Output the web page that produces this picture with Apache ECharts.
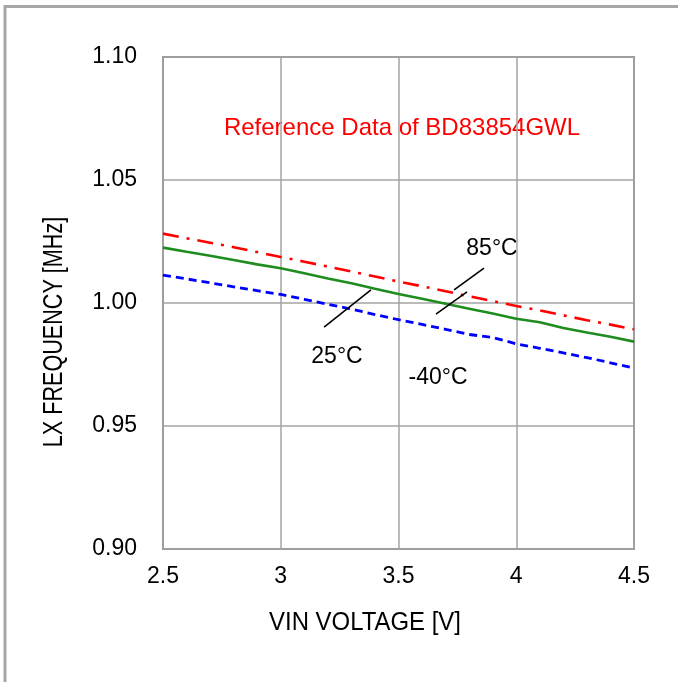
<!DOCTYPE html>
<html>
<head>
<meta charset="utf-8">
<script src="https://cdn.jsdelivr.net/npm/echarts@6/dist/echarts.min.js"></script>
<style>
html,body{margin:0;padding:0;background:#fff;}
#main{width:678px;height:682px;}
</style>
</head>
<body>
<div id="main"></div>
<script>
// VIN voltage [V]
const vin = [2.5,2.6,2.7,2.8,2.9,3.0,3.1,3.2,3.3,3.4,3.5,3.6,3.7,3.8,3.9,4.0,4.1,4.2,4.3,4.4,4.5];
// LX frequency [MHz] at 85°C
const freq85 = [1.0282,1.0263,1.0245,1.0227,1.0207,1.0187,1.0168,1.0148,1.0128,1.0108,1.0087,1.0068,1.0048,1.0027,1.0008,0.9988,0.9970,0.9950,0.9930,0.9912,0.9893];
// LX frequency [MHz] at 25°C
const freq25 = [1.0225,1.0208,1.0192,1.0175,1.0157,1.0141,1.0121,1.0100,1.0080,1.0058,1.0037,1.0017,0.9997,0.9977,0.9957,0.9936,0.9922,0.9898,0.9880,0.9863,0.9843];
// LX frequency [MHz] at -40°C
const freqM40 = [1.0113,1.0098,1.0082,1.0066,1.0050,1.0035,1.0015,0.9995,0.9975,0.9953,0.9932,0.9913,0.9893,0.9872,0.9860,0.9834,0.9816,0.9797,0.9778,0.9757,0.9735];
// axis ticks
const xTicks = [2.5,3,3.5,4,4.5];
const yTicks = [0.90,0.95,1.00,1.05,1.10];
// leader lines for temperature labels (data coordinates)
const leader25 = [[3.184,0.9902],[3.383,1.0053]];
const leader85a = [[3.863,1.0142],[3.736,1.0053]];
const leader85b = [[3.791,1.0045],[3.659,0.9955]];
// texts
const titleText = 'Reference Data of BD83854GWL';
const lbl85 = '85°C', lbl25 = '25°C', lblM40 = '-40°C';
const xName = 'VIN VOLTAGE [V]', yName = 'LX FREQUENCY [MHz]';

const FONT = '"Liberation Sans", Arial, sans-serif';
const pair = (xs, ys) => xs.map((x, i) => [x, ys[i]]);

const chart = echarts.init(document.getElementById('main'), null, {renderer:'canvas'});
const leaderSeries = (d) => ({
  type:'line', data:d, symbol:'none', silent:true, animation:false,
  lineStyle:{color:'#000', width:1.6}, z:5
});
chart.setOption({
  animation:false,
  backgroundColor:'#fff',
  grid:{left:163, top:57, right:44, bottom:133, show:true, borderColor:'#8f8f8f', borderWidth:2, backgroundColor:'transparent'},
  xAxis:{
    type:'value', min:2.5, max:4.5, interval:0.5,
    axisLine:{show:false}, axisTick:{show:false},
    splitLine:{show:true, lineStyle:{color:'#a3a3a3', width:1.5}},
    axisLabel:{color:'#000', fontSize:23, fontFamily:FONT, margin:16,
      formatter:(v)=> xTicks.includes(v) ? String(v) : ''}
  },
  yAxis:{
    type:'value', min:0.90, max:1.10, interval:0.05,
    axisLine:{show:false}, axisTick:{show:false},
    splitLine:{show:true, lineStyle:{color:'#a3a3a3', width:1.5}},
    axisLabel:{color:'#000', fontSize:23, fontFamily:FONT, margin:26,
      formatter:(v)=> { const t = yTicks.find(y=>Math.abs(y-v)<1e-9); return t===undefined?'':t.toFixed(2); }}
  },
  series:[
    {name:'85°C', type:'line', data:pair(vin,freq85), symbol:'none', z:3,
      lineStyle:{color:'#ff0000', width:2.6, type:[16,8,3,8]}},
    {name:'25°C', type:'line', data:pair(vin,freq25), symbol:'none', z:3,
      lineStyle:{color:'#1e8c1e', width:2.6}},
    {name:'-40°C', type:'line', data:pair(vin,freqM40), symbol:'none', z:3,
      lineStyle:{color:'#0000ff', width:2.8, type:[8,5]}},
    leaderSeries(leader25), leaderSeries(leader85a), leaderSeries(leader85b)
  ],
  graphic:[
    {type:'rect', shape:{x:5, y:6.5, width:800, height:800}, style:{fill:'none', stroke:'#a6a6a6', lineWidth:3}, z:-1, silent:true},
    {type:'text', x:402, y:128, style:{text:titleText, fill:'#ff0000', font:'24px '+FONT, textAlign:'center', textVerticalAlign:'middle'}},
    {type:'text', x:492, y:249, style:{text:lbl85, fill:'#000', font:'23px '+FONT, textAlign:'center', textVerticalAlign:'middle'}},
    {type:'text', x:337, y:357, style:{text:lbl25, fill:'#000', font:'23px '+FONT, textAlign:'center', textVerticalAlign:'middle'}},
    {type:'text', x:438, y:378, style:{text:lblM40, fill:'#000', font:'23px '+FONT, textAlign:'center', textVerticalAlign:'middle'}},
    {type:'text', x:365, y:623, scaleX:0.92, style:{text:xName, fill:'#000', font:'26px '+FONT, textAlign:'center', textVerticalAlign:'middle'}},
    {type:'text', x:55, y:332, rotation:Math.PI/2, scaleX:0.8, style:{text:yName, fill:'#000', font:'27px '+FONT, textAlign:'center', textVerticalAlign:'middle'}}
  ]
});
</script>
</body>
</html>
